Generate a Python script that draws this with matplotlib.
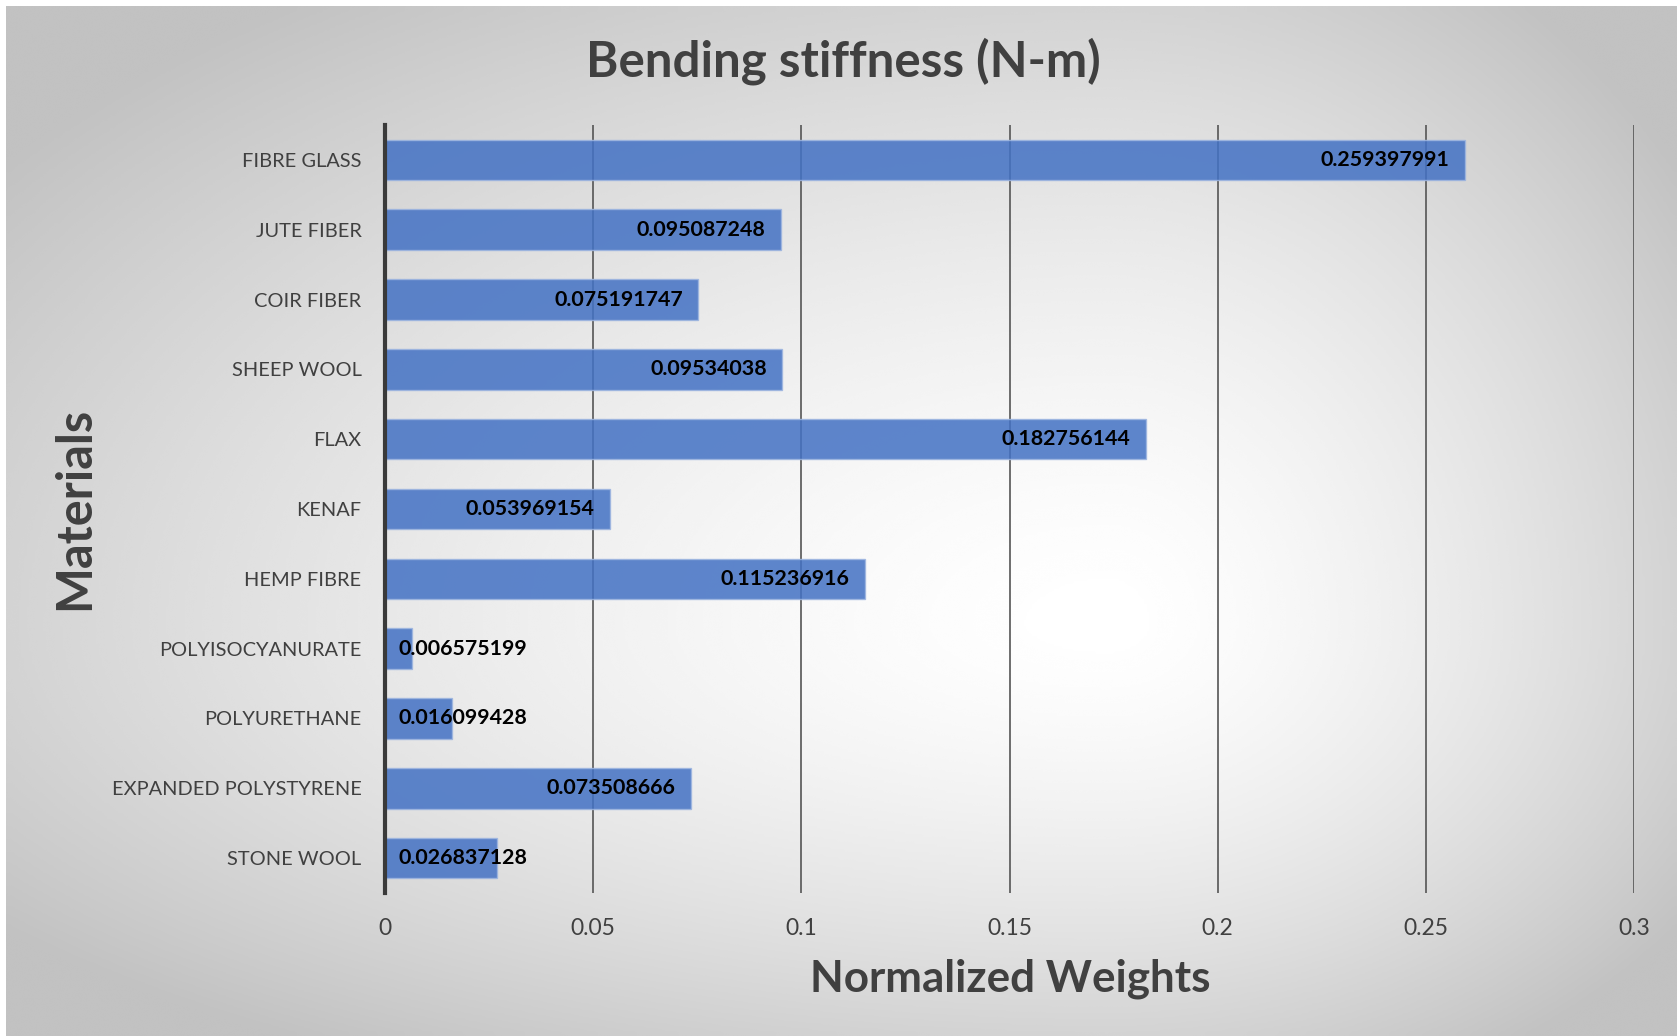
import numpy as np
import matplotlib
matplotlib.use('Agg')
import matplotlib.pyplot as plt

plt.rcParams['font.family'] = ['Lato', 'DejaVu Sans']

materials = ['FIBRE GLASS', 'JUTE FIBER', 'COIR FIBER', 'SHEEP WOOL', 'FLAX', 'KENAF',
             'HEMP FIBRE', 'POLYISOCYANURATE', 'POLYURETHANE', 'EXPANDED POLYSTYRENE',
             'STONE WOOL']
weights = [0.259397991, 0.095087248, 0.075191747, 0.09534038, 0.182756144, 0.053969154,
           0.115236916, 0.006575199, 0.016099428, 0.073508666, 0.026837128]
labels = ['0.259397991', '0.095087248', '0.075191747', '0.09534038', '0.182756144',
          '0.053969154', '0.115236916', '0.006575199', '0.016099428', '0.073508666',
          '0.026837128']
xticks = [0, 0.05, 0.1, 0.15, 0.2, 0.25, 0.3]
xticklabels = ['0', '0.05', '0.1', '0.15', '0.2', '0.25', '0.3']

W, H = 1677, 1036
fig = plt.figure(figsize=(W / 100, H / 100), dpi=100)
fig.patch.set_facecolor('white')

# background gradient (brightest a bit right of center)
bg = fig.add_axes([6 / W, 0, 1 - 6 / W, 1 - 6 / H])
bg.set_axis_off()
gx, gy = np.meshgrid(np.linspace(0, 1, 600), np.linspace(0, 1, 400))
cx, cy = 0.66, 0.40
u = np.where(gx < cx, (gx - cx) / cx, (gx - cx) / (1 - cx))
v = np.where(gy < cy, (gy - cy) / cy, (gy - cy) / (1 - cy))
r = np.sqrt(u ** 2 + v ** 2) / 1.25
shade = 1 - 0.24 * np.clip(r, 0, 1) ** 1.5
bg.imshow(shade, cmap='gray', vmin=0, vmax=1, origin='lower', aspect='auto',
          extent=[0, 1, 0, 1], interpolation='bicubic')
bg.set_xlim(0, 1)
bg.set_ylim(0, 1)

ax = fig.add_axes([385 / W, 1 - 893 / H, (1634 - 385) / W, (893 - 125) / H])
ax.patch.set_alpha(0)
y = np.arange(len(materials))
ax.barh(y, weights, height=0.58, color='#4472C4', alpha=0.86,
        edgecolor='#9DB5E0', linewidth=1, zorder=3)
ax.set_xlim(0, 0.3)
ax.set_ylim(len(materials) - 0.5, -0.5)
ax.set_xticks(xticks)
ax.set_xticklabels(xticklabels)
ax.set_yticks(y)
ax.set_yticklabels(materials)
ax.tick_params(axis='both', length=0, labelcolor='#404040')
ax.tick_params(axis='x', pad=18, labelsize=16.5)
ax.tick_params(axis='y', pad=17, labelsize=14.4)
ax.xaxis.grid(True, color='#555555', linewidth=1.2, zorder=2)
ax.set_axisbelow(True)
for s in ['top', 'right', 'bottom']:
    ax.spines[s].set_visible(False)
ax.spines['left'].set_color('#3a3a3a')
ax.spines['left'].set_linewidth(3)
ax.spines['left'].set_zorder(5)

for yi, val, lab in zip(y, weights, labels):
    if val < 0.035:
        ax.annotate(lab, (0, yi), xytext=(10, 0), textcoords='offset points',
                    ha='left', va='center', fontsize=15.4, fontweight='bold',
                    color='black', zorder=6)
    else:
        ax.annotate(lab, (val, yi), xytext=(-11, 0), textcoords='offset points',
                    ha='right', va='center', fontsize=15.4, fontweight='bold',
                    color='black', zorder=6)

fig.text(843 / W, 1 - 61 / H, 'Bending stiffness (N-m)', ha='center', va='center',
         fontsize=35.5, fontweight='bold', color='#404040')
fig.text(1010 / W, 1 - 979 / H, 'Normalized Weights', ha='center', va='center',
         fontsize=31.7, fontweight='bold', color='#404040')
fig.text(75 / W, 1 - 508 / H, 'Materials', ha='center', va='center', rotation=90,
         fontsize=35, fontweight='bold', color='#404040')

fig.savefig('out.png', dpi=100)
